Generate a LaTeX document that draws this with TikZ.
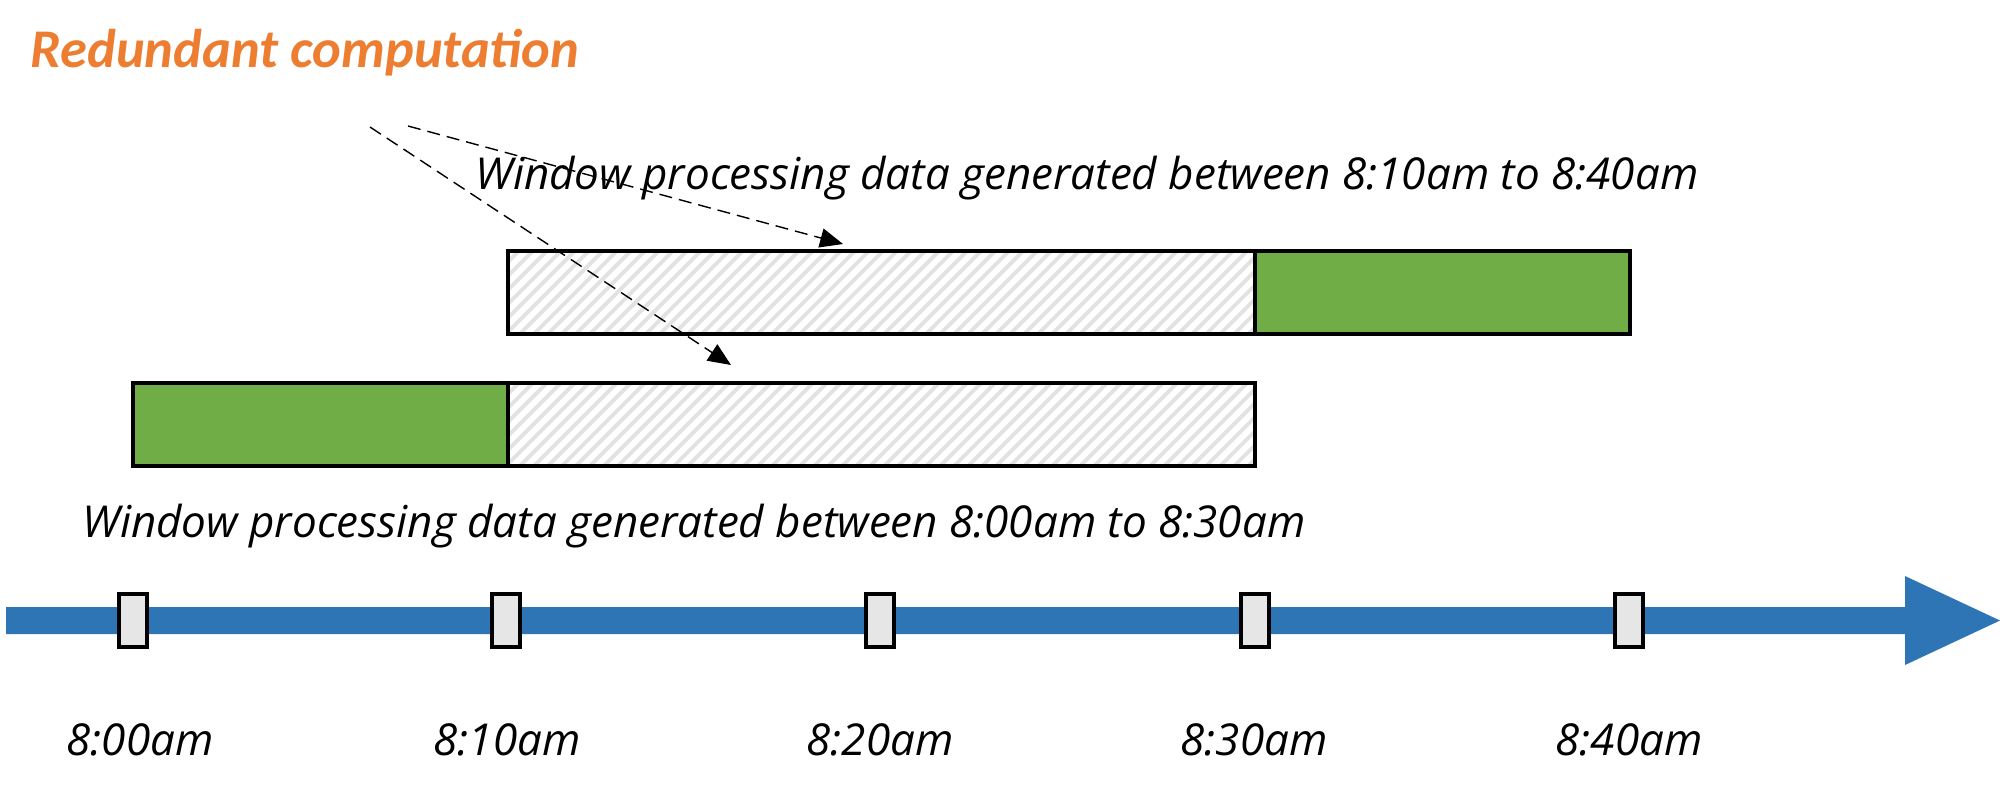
\documentclass[tikz,border=0pt]{standalone}
\usepackage{fontspec}
\setmainfont{Open Sans}
\newfontfamily\notefont{Carlito}
\usetikzlibrary{arrows.meta}
\definecolor{axisblue}{HTML}{2E75B6}
\definecolor{usedgreen}{HTML}{70AD47}
\definecolor{hatchgray}{HTML}{E2E2E2}
\definecolor{tickgray}{HTML}{E6E6E6}
\definecolor{noteorange}{HTML}{ED7D31}

\begin{document}
\begin{tikzpicture}[x=0.01cm,y=-0.01cm,
  seg/.style={draw,line width=1pt,minimum height=0.83cm,inner sep=0pt,outer sep=0pt},
  fresh/.style={seg,fill=usedgreen},
  redundant/.style={seg,fill=white,path picture={
      \foreach \k in {0,...,62}
        \draw[hatchgray,line width=1.1pt] ([xshift={\k*0.14cm-1cm}]path picture bounding box.south west) -- ++(1.2cm,1.2cm);}},
  tickbox/.style={draw,fill=tickgray,line width=1.1pt,minimum width=0.28cm,minimum height=0.53cm,inner sep=0pt},
  caption/.style={font=\fontsize{12.5}{15}\selectfont\itshape,inner sep=0pt},
  pointer/.style={dash pattern=on 3.7pt off 2pt,line width=0.4pt,-{Triangle[length=6.5pt,width=5.5pt]}}]
  \useasboundingbox (0,0) rectangle (2000,796);
  % time axis
  \fill[axisblue] (6,607) -- (1905,607) -- (1905,576) -- (2000,620.5) -- (1905,665) -- (1905,634) -- (6,634) -- cycle;
  \foreach \x/\lx/\t [count=\i] in {133/140/8:00am,506/507/8:10am,880/880/8:20am,1255/1254/8:30am,1629/1629/8:40am} {
    \node[tickbox] (tick\i) at (\x,620.5) {};
    \node[caption] (time\i) at (\lx,740) {\t};
  }
  % the two windows
  \node[redundant,minimum width=7.47cm] (oldA) at (881.5,292.5) {};
  \node[fresh,minimum width=3.75cm] (newA) at (1442.5,292.5) {};
  \node[fresh,minimum width=3.75cm] (newB) at (320.5,424.5) {};
  \node[redundant,minimum width=7.47cm] (oldB) at (881.5,424.5) {};
  \node[caption] (winA) at (1087,178) {Window processing data generated between 8:10am to 8:40am};
  \node[caption] (winB) at (694,526) {Window processing data generated between 8:00am to 8:30am};
  % note
  \node[font=\notefont\fontsize{15.5}{18}\selectfont\bfseries\itshape,text=noteorange,inner sep=0pt] (note) at (305,53) {Redundant computation};
  \coordinate (fromA) at (408,126);
  \coordinate (fromB) at (370,127);
  \coordinate (hitA) at (843,244);
  \coordinate (hitB) at (731,365);
  \draw[pointer] (fromA) -- (hitA);
  \draw[pointer] (fromB) -- (hitB);
\end{tikzpicture}
\end{document}
